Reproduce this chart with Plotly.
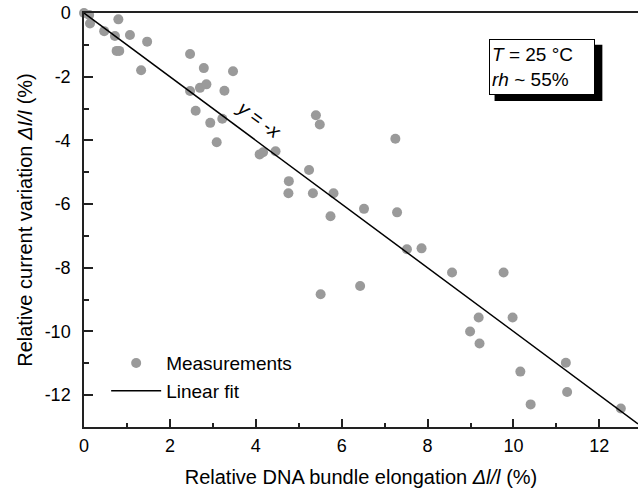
import plotly.graph_objects as go

# Measurements (Relative DNA bundle elongation %, relative current variation %)
meas_x = [0.0, 0.12, 0.14, 0.47, 0.80, 0.72, 1.07, 0.76, 0.82, 1.47, 1.33,
          2.47, 2.79, 3.47, 2.47, 2.70, 2.85, 3.27, 2.60, 2.94, 3.22, 3.09,
          4.09, 4.17, 4.46, 5.40, 5.49, 5.24, 4.77, 4.76, 5.33, 5.81, 5.74,
          5.51, 6.43, 6.52, 7.25, 7.29, 7.52, 7.86, 8.57, 9.77, 9.19, 9.98,
          8.99, 9.21, 11.22, 10.16, 11.25, 10.40, 12.50]
meas_y = [0.0, -0.06, -0.33, -0.57, -0.20, -0.72, -0.69, -1.19, -1.19, -0.90, -1.80,
          -1.29, -1.73, -1.83, -2.45, -2.35, -2.24, -2.44, -3.07, -3.45, -3.32, -4.06,
          -4.44, -4.37, -4.34, -3.21, -3.50, -4.93, -5.28, -5.66, -5.66, -5.66, -6.38,
          -8.83, -8.57, -6.15, -3.95, -6.26, -7.42, -7.39, -8.15, -8.15, -9.56, -9.56,
          -10.00, -10.38, -10.98, -11.26, -11.90, -12.29, -12.42]

# Linear fit y = -x
fit_x = [0.0, 12.9]
fit_y = [0.0, -12.9]

# Tick values and labels
x_tickvals = [0, 2, 4, 6, 8, 10, 12]
x_minorvals = [1, 3, 5, 7, 9, 11]
y_tickvals = [0, -2, -4, -6, -8, -10, -12]
y_ticklabels = ["0", "-2", "-4", "-6", "-8", "-10", "-12"]
y_minorvals = [-1, -3, -5, -7, -9, -11]

font_family = "Liberation Sans, Arial, sans-serif"

fig = go.Figure()
fig.add_trace(go.Scatter(
    x=meas_x, y=meas_y, mode="markers", name="Measurements",
    marker=dict(color="#9a9a9a", size=10, line=dict(width=0)),
    cliponaxis=False,
))
fig.add_trace(go.Scatter(
    x=fit_x, y=fit_y, mode="lines", name="Linear fit",
    line=dict(color="black", width=1.5),
))

# shadow for the condition box
fig.add_shape(type="rect", xref="x", yref="y",
              x0=9.56, x1=12.07, y0=-1.0, y1=-2.76,
              fillcolor="black", line=dict(width=0), layer="above")

fig.add_annotation(
    x=10.67, y=-1.70, xref="x", yref="y", showarrow=False,
    text="<i>T</i> = 25 °C<br><i>rh</i> ~ 55%",
    align="left", font=dict(family=font_family, size=19, color="black"),
    bgcolor="white", bordercolor="black", borderwidth=1, borderpad=2,
    width=100, height=50,
)

fig.add_annotation(
    x=4.08, y=-3.34, xref="x", yref="y", showarrow=False,
    text="<i>y</i> = -<i>x</i>", textangle=36.5,
    font=dict(family=font_family, size=19, color="black"),
)

fig.update_layout(
    width=638, height=489,
    margin=dict(l=84, r=0, t=13, b=62),
    paper_bgcolor="white", plot_bgcolor="white",
    font=dict(family=font_family, size=19, color="black"),
    showlegend=True,
    legend=dict(x=0.04, y=0.2, xanchor="left", yanchor="top",
                bgcolor="rgba(0,0,0,0)", font=dict(size=19),
                tracegroupgap=0, itemwidth=50),
)

fig.update_xaxes(
    range=[0, 12.9], showgrid=False, zeroline=False,
    showline=True, linecolor="#222", linewidth=1.5, mirror=True,
    ticks="inside", ticklen=8, tickwidth=1.5, tickcolor="#222",
    tickvals=x_tickvals,
    minor=dict(ticks="inside", ticklen=4, tickwidth=1.5, tickcolor="#222",
               tickvals=x_minorvals),
    ticklabelstandoff=2,
    tickfont=dict(size=18),
    title=dict(text="Relative DNA bundle elongation <i>Δl/l</i> (%)",
               font=dict(size=20), standoff=15),
)
fig.update_yaxes(
    range=[-13, 0], showgrid=False, zeroline=False,
    showline=True, linecolor="#222", linewidth=1.5, mirror=False,
    ticks="inside", ticklen=9, tickwidth=1.5, tickcolor="#222",
    tickvals=y_tickvals, ticktext=y_ticklabels,
    minor=dict(ticks="inside", ticklen=5, tickwidth=1.5, tickcolor="#222",
               tickvals=y_minorvals),
    ticklabelstandoff=8,
    tickfont=dict(size=18),
    title=dict(text="Relative current variation <i>ΔI/I</i> (%)",
               font=dict(size=20), standoff=7),
)

fig.write_html("out.html", config={"displayModeBar": False},
               post_script="document.body.style.margin='0';document.body.style.padding='0';")
